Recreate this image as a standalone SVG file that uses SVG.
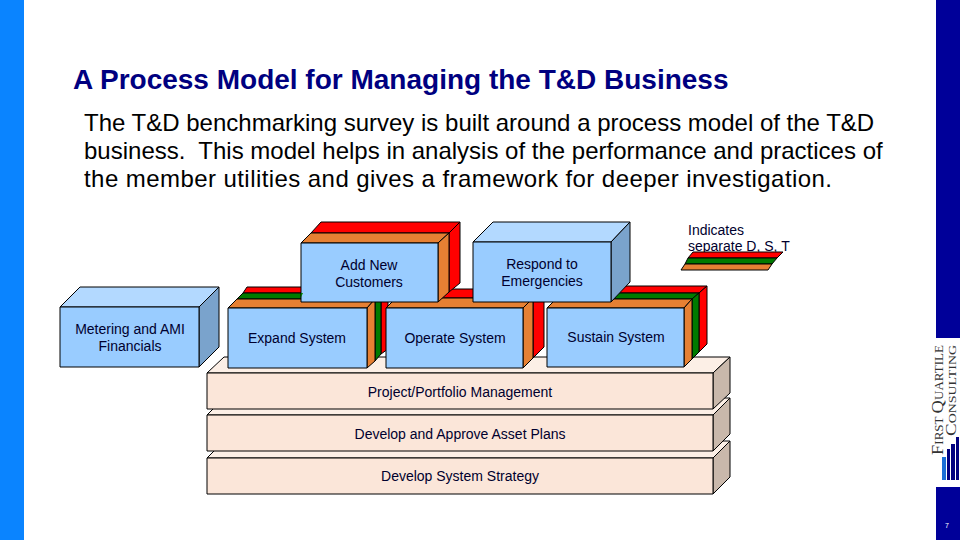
<svg xmlns="http://www.w3.org/2000/svg" width="960" height="540" viewBox="0 0 960 540">
<defs>
<style>
text{font-family:"Liberation Sans",Arial,sans-serif;fill:#000}
.t{font-size:14px;fill:#00002e;text-anchor:middle}
.n{font-size:14px;fill:#00002e}
.l{stroke:#000;stroke-width:1;stroke-linejoin:round}
.bf{fill:#99ccff}.bt{fill:#b3d9ff}.bs{fill:#7aa3cc}
.o{fill:#e68033}.g{fill:#007a00}.r{fill:#ff0000}
.pf{fill:#fbe6d9}.pt{fill:#fcefe6}.ps{fill:#c9b8ab}
.body{font-size:24px;white-space:pre}
.logo{font-family:"Liberation Serif",serif;fill:#333}
</style>
</defs>
<rect x="0" y="0" width="24" height="540" fill="#0a84ff"/>
<rect x="936" y="0" width="24" height="338" fill="#000099"/>
<rect x="936" y="487" width="24" height="53" fill="#000099"/>
<text x="947" y="528" font-size="7" style="fill:#fff" text-anchor="middle">7</text>
<text x="73" y="89" font-size="28" font-weight="700" style="fill:#000080">A Process Model for Managing the T&amp;D Business</text>
<text class="body" x="84" y="131">The T&amp;D benchmarking survey is built around a process model of the T&amp;D</text>
<text class="body" x="84" y="159">business.  This model helps in analysis of the performance and practices of</text>
<text class="body" x="84" y="187" textLength="748">the member utilities and gives a framework for deeper investigation.</text>

<g id="logo">
<text class="logo" transform="translate(943,455) rotate(-90)" font-size="12" textLength="110" lengthAdjust="spacingAndGlyphs"><tspan font-size="17">F</tspan>IRST <tspan font-size="17">Q</tspan>UARTILE</text>
<text class="logo" transform="translate(955.5,436) rotate(-90)" font-size="11" textLength="91" lengthAdjust="spacingAndGlyphs"><tspan font-size="15">C</tspan>ONSULTING</text>
<rect x="942" y="457" width="4" height="23" fill="#1a6fd6"/>
<rect x="947" y="449" width="3" height="31" fill="#000080"/>
<rect x="951" y="444" width="4" height="36" fill="#000080"/>
<rect x="956" y="437" width="3" height="43" fill="#000080"/>
</g>

<g id="plan-strategy">
<path class="l pt" d="M207 458L224 441H730L713 458Z"/><path class="l ps" d="M713 458L730 441V477L713 494Z"/>
<rect class="l pf" x="207" y="458" width="506" height="36"/>
<text class="t" x="460" y="481">Develop System Strategy</text>
</g>
<g id="plan-assets">
<path class="l pt" d="M207 415L224 398H730L713 415Z"/><path class="l ps" d="M713 415L730 398V434L713 451Z"/>
<rect class="l pf" x="207" y="415" width="506" height="36"/>
<text class="t" x="460" y="439">Develop and Approve Asset Plans</text>
</g>
<g id="plan-portfolio">
<path class="l pt" d="M207 373L224 357H730L713 373Z"/><path class="l ps" d="M713 373L730 357V393L713 409Z"/>
<rect class="l pf" x="207" y="373" width="506" height="36"/>
<text class="t" x="460" y="397">Project/Portfolio Management</text>
</g>

<g id="metering">
<path class="l bt" d="M60 307L80 287H219L199 307Z"/><path class="l bs" d="M199 307L219 287V347L199 367Z"/>
<rect class="l bf" x="60" y="307" width="139" height="60"/>
<text class="t" x="130" y="334">Metering and AMI</text><text class="t" x="130" y="351">Financials</text>
</g>

<g id="expand">
<path class="l r" d="M243 293L247 287H388L381 293Z"/>
<path class="l g" d="M237 299L243 293H381L375 299Z"/>
<path class="l o" d="M228 308L237 299H375L367 308Z"/>
<path class="l r" d="M381 293L388 287V349L381 354Z"/>
<path class="l g" d="M375 299L381 293V354L375 361Z"/>
<path class="l o" d="M367 308L375 299V361L367 368Z"/>
<rect class="l bf" x="228" y="308" width="139" height="60" stroke-width="1.5"/>
<text class="t" x="297" y="343">Expand System</text>
</g>
<g id="operate">
<path class="l r" d="M396 298L406 289H544L533 298Z"/>
<path class="l o" d="M386 308L396 298H533L523 308Z"/>
<path class="l r" d="M533 298L544 289V347L533 358Z"/>
<path class="l o" d="M523 308L533 298V358L523 368Z"/>
<rect class="l bf" x="386" y="308" width="137" height="60"/>
<text class="t" x="455" y="343">Operate System</text>
</g>
<g id="sustain">
<path class="l r" d="M556 293L566 286H707L699 293Z"/>
<path class="l g" d="M556 299L562 293H699L692 299Z"/>
<path class="l o" d="M547 308L556 299H692L684 308Z"/>
<path class="l r" d="M699 293L707 286V344L699 352Z"/>
<path class="l g" d="M692 299L699 293V352L692 359Z"/>
<path class="l o" d="M684 308L692 299V359L684 367Z"/>
<rect class="l bf" x="547" y="308" width="137" height="59"/>
<text class="t" x="616" y="342">Sustain System</text>
</g>
<g id="add-customers">
<path class="l r" d="M311 233L321 222H460L449 233Z"/>
<path class="l o" d="M301 243L311 233H449L438 243Z"/>
<path class="l r" d="M449 233L460 222V283L449 292Z"/>
<path class="l o" d="M438 243L449 233V292L438 302Z"/>
<rect class="l bf" x="301" y="243" width="137" height="59"/>
<text class="t" x="369" y="270">Add New</text><text class="t" x="369" y="287">Customers</text>
</g>
<path class="g" d="M301 293H303L301 297Z"/>
<g id="respond">
<path class="l bt" d="M473 242L493 222H630L611 242Z"/><path class="l bs" d="M611 242L630 222V282L611 302Z"/>
<rect class="l bf" x="473" y="242" width="138" height="60"/>
<text class="t" x="542" y="269">Respond to</text><text class="t" x="542" y="286">Emergencies</text>
</g>
<g id="legend">
<text class="n" x="688" y="235">Indicates</text>
<text class="n" x="688" y="251">separate D, S, T</text>
<path class="l r" d="M693 252H783L777 258H688Z"/>
<path class="l g" d="M688 258H777L772 264H685Z"/>
<path class="l o" d="M685 264H772L768 270H681Z"/>
</g>
<g id="connectors"></g>
</svg>
